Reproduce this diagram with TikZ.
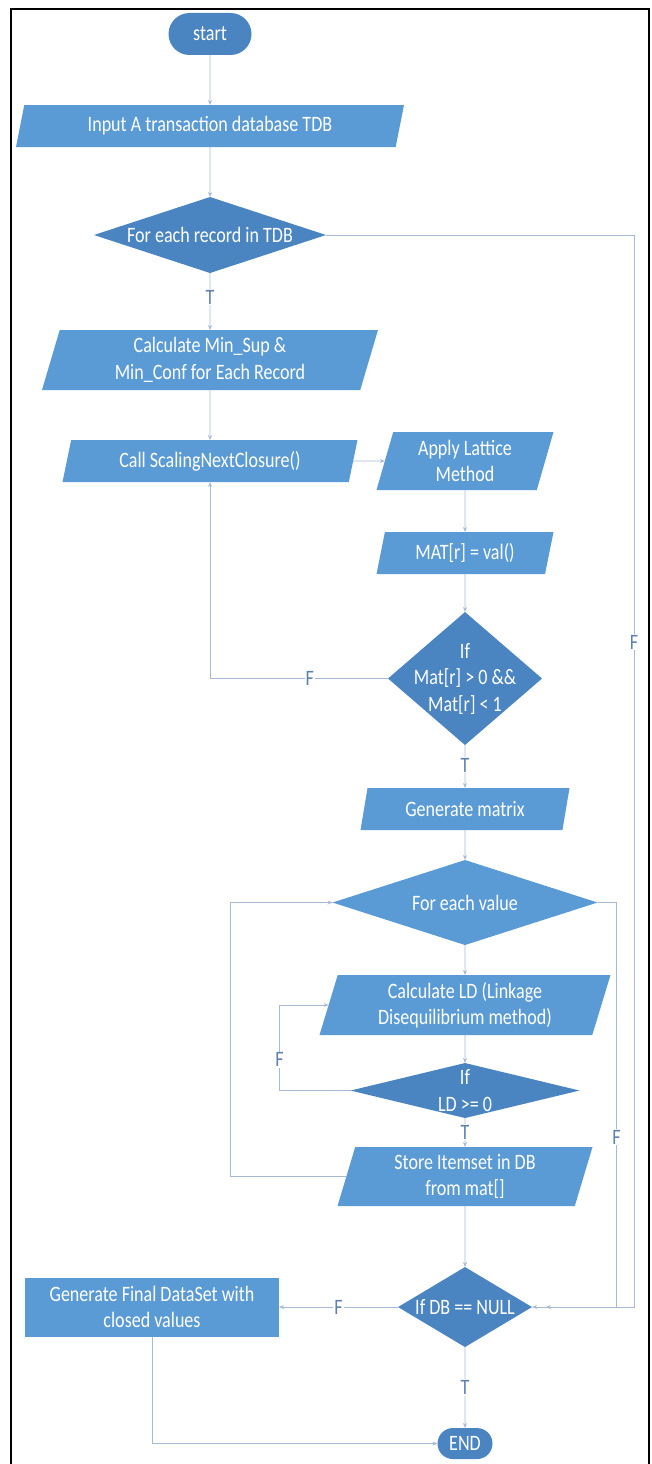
\documentclass[tikz,border=0pt]{standalone}
\usepackage{fontspec}
\setmainfont{Carlito}
\newfontfamily\tallfont[FakeStretch=0.82]{Carlito}
\usetikzlibrary{arrows.meta, positioning, shapes.geometric, shapes.misc}
\definecolor{ltblue}{RGB}{91,155,213}
\definecolor{dkblue}{RGB}{74,133,194}
\definecolor{linec}{RGB}{166,186,214}
\definecolor{lblc}{RGB}{94,128,175}
\newcommand{\boxfont}{\tallfont\fontsize{22}{26.5}\selectfont}

\begin{document}
\begin{tikzpicture}[x=1pt, y=-1pt,
        >={Stealth[length=5pt, width=4pt]},
        term/.style={rounded rectangle, fill=dkblue, text=white, font=\boxfont,
                     inner sep=2pt, outer sep=0pt},
        iobox/.style={trapezium, trapezium left angle=70, trapezium right angle=110,
                      trapezium stretches body=true, fill=ltblue, text=white,
                      font=\boxfont, align=center, inner sep=2pt, outer sep=0pt},
        procbox/.style={rectangle, fill=ltblue, text=white, font=\boxfont,
                        align=center, inner sep=2pt, outer sep=0pt},
        decision/.style={diamond, fill=dkblue, inner sep=0pt, outer sep=0pt},
        dtext/.style={text=white, font=\boxfont, align=center, inner sep=0pt},
        arr/.style={->, draw=linec, line width=0.8pt},
        lbl/.style={fill=white, text=lblc, font=\boxfont, inner sep=1pt},
      ]
        \useasboundingbox (0,0) rectangle (651,1464);
        \draw[line width=2.5pt] (11,1470) -- (11,9) -- (649,9) -- (649,1470);

        % left column
        \node[term, minimum width=87pt, minimum height=42pt] (start) at (210,34) {start};
        \node[iobox, minimum width=388pt, minimum height=42pt, below=50pt of start] (input) {Input A transaction database TDB};
        \node[decision, minimum width=232pt, minimum height=76pt, below=50pt of input,
              label={[dtext]center:{For each record in TDB}}] (rec) {};
        \node[iobox, minimum width=336pt, minimum height=60pt, below=57pt of rec] (minsup) {Calculate Min\_Sup \&\\Min\_Conf for Each Record};
        \node[iobox, minimum width=295pt, minimum height=42pt, below=50pt of minsup] (call) {Call ScalingNextClosure()};

        % right column
        \node[iobox, minimum width=177pt, minimum height=58pt] (lattice) at (465,461) {Apply Lattice\\Method};
        \node[iobox, minimum width=177pt, minimum height=42pt, below=42pt of lattice] (mat) {MAT[r] = val()};
        \node[decision, minimum width=154pt, minimum height=133pt, below=38pt of mat,
              label={[dtext]center:{If\\Mat[r] > 0 \&\&\\Mat[r] < 1}}] (ifmat) {};
        \node[iobox, minimum width=209pt, minimum height=42pt, below=43pt of ifmat] (genmat) {Generate matrix};
        \node[decision, fill=ltblue, minimum width=265pt, minimum height=85pt, below=30pt of genmat,
              label={[dtext]center:{For each value}}] (foreach) {};
        \node[iobox, minimum width=291pt, minimum height=60pt, below=30pt of foreach] (calcld) {Calculate LD (Linkage\\Disequilibrium method)};
        \node[decision, minimum width=229pt, minimum height=55pt, below=28pt of calcld,
              label={[dtext]center:{If\\LD >= 0}}] (ifld) {};
        \node[iobox, minimum width=255pt, minimum height=59pt, below=29pt of ifld] (store) {Store Itemset in DB\\from mat[]};
        \node[decision, minimum width=134pt, minimum height=80pt, below=61pt of store,
              label={[dtext]center:{If DB == NULL}}] (ifdb) {};
        \node[term, minimum width=59pt, minimum height=31pt, below=81pt of ifdb] (finish) {END};
        \node[procbox, minimum width=254pt, minimum height=59pt, left=119pt of ifdb] (final) {Generate Final DataSet with\\closed values};

        % connectors
        \draw[arr] (start) -- (input);
        \draw[arr] (input) -- (rec);
        \draw[arr] (rec) -- node[lbl, pos=0.42] {T} (minsup);
        \draw[arr] (minsup) -- (call);
        \draw[arr] (call.east) -- (lattice.west);
        \draw[arr] (lattice) -- (mat);
        \draw[arr] (mat) -- (ifmat);
        \draw[arr] (ifmat.west) -| node[lbl, pos=0.22] {F} (call.south);
        \draw[arr] (ifmat) -- node[lbl, pos=0.47] {T} (genmat);
        \draw[arr] (genmat) -- (foreach);
        \draw[arr] (foreach) -- (calcld);
        \draw[arr] (calcld) -- (ifld);
        \draw[arr] (ifld.west) -- ++(-71pt,0) |- node[lbl, pos=0.18] {F} (calcld.west);
        \draw[arr] (ifld) -- node[lbl, pos=0.48] {T} (store);
        \draw[arr] (store.west) -- ++(-116pt,0) |- (foreach.west);
        \draw[arr] (store) -- (ifdb);
        \draw[arr] (foreach.east) -- ++(19pt,0) |- node[lbl, pos=0.29] {F} (ifdb.east);
        \draw[arr] (rec.east) -- ++(308pt,0) |- node[lbl, pos=0.19] {F} ([xshift=14pt]ifdb.east);
        \draw[arr] (ifdb.west) -- node[lbl, midway] {F} (final.east);
        \draw[arr] (ifdb) -- node[lbl, midway] {T} (finish);
        \draw[arr] (final.south) |- (finish.west);
      \end{tikzpicture}
\end{document}
